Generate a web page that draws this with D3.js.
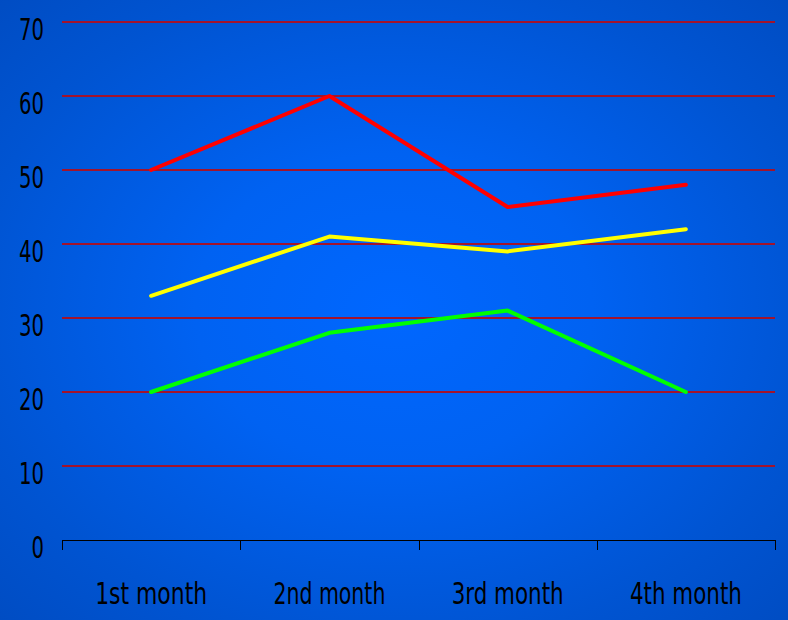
<!DOCTYPE html>
<html>
<head>
<meta charset="utf-8">
<script src="https://d3js.org/d3.v7.min.js"></script>
<style>
  html, body { margin: 0; padding: 0; background: #0055d6; }
  svg { display: block; }
  text { font-family: "DejaVu Sans Condensed", "DejaVu Sans", sans-serif; font-stretch: condensed; fill: #000; }
</style>
</head>
<body>
<script>
// Monthly figures for three series
const categories = ["1st month", "2nd month", "3rd month", "4th month"];
const redSeries = [50, 60, 45, 48];
const yellowSeries = [33, 41, 39, 42];
const greenSeries = [20, 28, 31, 20];
const yTicks = [0, 10, 20, 30, 40, 50, 60, 70];

const series = [
  { name: "red", values: redSeries, color: "#ff0000" },
  { name: "yellow", values: yellowSeries, color: "#ffff00" },
  { name: "green", values: greenSeries, color: "#00ff00" }
];

const W = 788, H = 620;
const margin = { left: 62, right: 13, top: 22, bottom: 80 };

const svg = d3.select("body").append("svg")
  .attr("width", W).attr("height", H);

// Blue backdrop, brightest in the middle
const defs = svg.append("defs");
const grad = defs.append("radialGradient")
  .attr("id", "bg").attr("cx", "50%").attr("cy", "50%").attr("r", "72%");
grad.append("stop").attr("offset", "0%").attr("stop-color", "#0067ff");
grad.append("stop").attr("offset", "35%").attr("stop-color", "#0062f2");
grad.append("stop").attr("offset", "75%").attr("stop-color", "#0054d2");
grad.append("stop").attr("offset", "100%").attr("stop-color", "#004cc2");
svg.append("rect").attr("width", W).attr("height", H).attr("fill", "url(#bg)");

const x = d3.scaleBand()
  .domain(categories)
  .range([margin.left, W - margin.right]);

const y = d3.scaleLinear()
  .domain([0, 70])
  .range([H - margin.bottom, margin.top]);

// Horizontal grid lines
svg.append("g").selectAll("line")
  .data(yTicks.filter(d => d > 0))
  .join("line")
  .attr("x1", margin.left).attr("x2", W - margin.right)
  .attr("y1", d => y(d)).attr("y2", d => y(d))
  .attr("stroke", "#a3142c").attr("stroke-width", 2);

// Y tick labels, condensed
svg.append("g").selectAll("text")
  .data(yTicks)
  .join("text")
  .attr("x", 44)
  .attr("y", d => y(d) + 18)
  .attr("text-anchor", "end")
  .attr("font-size", 31)
  .attr("textLength", d => String(d).length * 12.5)
  .attr("lengthAdjust", "spacingAndGlyphs")
  .text(d => d);

// X axis with boundary ticks
const xAxis = svg.append("g")
  .attr("transform", `translate(0,${y(0)})`);
xAxis.append("line")
  .attr("x1", margin.left).attr("x2", W - margin.right)
  .attr("y1", 0.5).attr("y2", 0.5)
  .attr("stroke", "#000").attr("stroke-width", 1);
const boundaries = categories.map(c => x(c)).concat([x(categories[categories.length - 1]) + x.bandwidth()]);
xAxis.selectAll("line.tick")
  .data(boundaries)
  .join("line")
  .attr("class", "tick")
  .attr("x1", d => Math.round(d) + 0.5).attr("x2", d => Math.round(d) + 0.5)
  .attr("y1", 0).attr("y2", 10)
  .attr("stroke", "#000").attr("stroke-width", 1);

// Category labels
svg.append("g").selectAll("text")
  .data(categories)
  .join("text")
  .attr("x", d => x(d) + x.bandwidth() / 2)
  .attr("y", 604)
  .attr("text-anchor", "middle")
  .attr("font-size", 31)
  .attr("textLength", 112)
  .attr("lengthAdjust", "spacingAndGlyphs")
  .text(d => d);

// Series lines
const line = d3.line()
  .x((d, i) => x(categories[i]) + x.bandwidth() / 2)
  .y(d => y(d));

svg.append("g").selectAll("path")
  .data(series)
  .join("path")
  .attr("d", d => line(d.values))
  .attr("fill", "none")
  .attr("stroke", d => d.color)
  .attr("stroke-width", 4)
  .attr("stroke-linejoin", "round")
  .attr("stroke-linecap", "round");
</script>
</body>
</html>
